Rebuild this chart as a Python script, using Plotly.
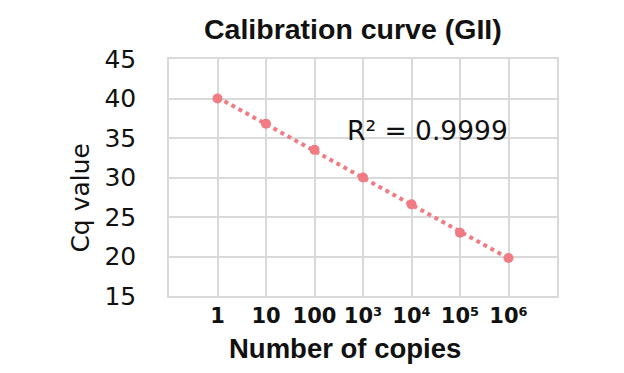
import numpy as np
import plotly.graph_objects as go

# Data
copy_labels = ["1", "10", "100", "10³", "10⁴", "10⁵", "10⁶"]
cq_values = [40.0, 36.8, 33.5, 30.0, 26.6, 23.0, 19.8]
r2_label = "R² = 0.9999"
chart_title = "Calibration curve (GII)"
x_title = "Number of copies"
y_title = "Cq value"

# page body has an 8px margin; work in screen pixels and convert
OFF = 8
W, H = 624 - 2 * OFF, 373 - 2 * OFF
plot_left, plot_right, plot_top, plot_bottom = 169, 557.5, 59, 296
L = plot_left - OFF
T = plot_top - OFF
R = W - (plot_right - OFF)
B = H - (plot_bottom - OFF)
pw = plot_right - plot_left
ph = plot_bottom - plot_top

x_pos = list(range(1, len(copy_labels) + 1))
slope, intercept = np.polyfit(x_pos, cq_values, 1)
trend_x = [x_pos[0], x_pos[-1]]
trend_y = [slope * v + intercept for v in trend_x]

pink = "#f07b82"
grid = "#d9d9d9"
ink = "#111111"

fig = go.Figure()
fig.add_trace(go.Scatter(
    x=trend_x, y=trend_y, mode="lines",
    line=dict(color=pink, width=4, dash="4px,4px"),
    hoverinfo="skip", showlegend=False,
))
fig.add_trace(go.Scatter(
    x=x_pos, y=cq_values, mode="markers",
    marker=dict(color=pink, size=10),
    showlegend=False,
))

def px_to_paper_x(px):
    return (px - plot_left) / pw

def px_to_paper_y(py):
    return (plot_bottom - py) / ph

fig.update_layout(
    width=W, height=H,
    margin=dict(l=L, r=R, t=T, b=B, pad=0),
    paper_bgcolor="white", plot_bgcolor="white",
    showlegend=False,
    xaxis=dict(
        range=[0, 8], tickmode="array", tickvals=x_pos, ticktext=copy_labels,
        showgrid=True, gridcolor=grid, gridwidth=1.5,
        showline=True, linecolor=grid, linewidth=1.5, mirror=True,
        zeroline=False, ticks="",
        tickfont=dict(family="DejaVu Sans", size=21, color=ink, weight="bold"),
        ticklabelstandoff=0,
    ),
    yaxis=dict(
        range=[15, 45], tick0=15, dtick=5,
        showgrid=True, gridcolor=grid, gridwidth=1.5,
        showline=True, linecolor=grid, linewidth=1.5, mirror=True,
        zeroline=False, ticks="",
        tickfont=dict(family="DejaVu Sans", size=25, color=ink),
        ticklabelstandoff=26,
    ),
    annotations=[
        dict(text=chart_title, xref="paper", yref="paper",
             x=px_to_paper_x(353), y=px_to_paper_y(29),
             xanchor="center", yanchor="middle", showarrow=False,
             font=dict(family="Liberation Sans", size=28.5, color=ink, weight="bold")),
        dict(text=x_title, xref="paper", yref="paper",
             x=px_to_paper_x(345), y=px_to_paper_y(348),
             xanchor="center", yanchor="middle", showarrow=False,
             font=dict(family="Liberation Sans", size=27.5, color=ink, weight="bold")),
        dict(text=y_title, xref="paper", yref="paper",
             x=px_to_paper_x(80), y=px_to_paper_y(197.5),
             xanchor="center", yanchor="middle", showarrow=False, textangle=-90,
             font=dict(family="DejaVu Sans", size=25, color=ink)),
        dict(text=r2_label, xref="paper", yref="paper",
             x=px_to_paper_x(427.5), y=px_to_paper_y(131),
             xanchor="center", yanchor="middle", showarrow=False,
             font=dict(family="DejaVu Sans", size=26.5, color=ink)),
    ],
)

fig.write_html("out.html")
